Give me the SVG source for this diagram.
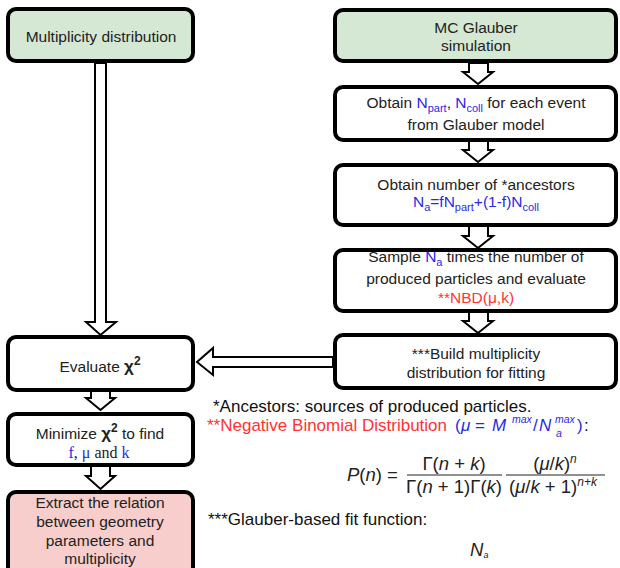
<svg xmlns="http://www.w3.org/2000/svg" width="620" height="568" viewBox="0 0 620 568">
<style>
.box{stroke:#000;stroke-width:4;}
.green{fill:#d5e8d4;}
.white{fill:#fff;}
.red{fill:#f8cecc;}
.t{font-family:"Liberation Sans",Arial,sans-serif;font-size:15.5px;fill:#222;text-anchor:middle;}
.n{font-family:"Liberation Sans",Arial,sans-serif;font-size:17px;fill:#111;}
.m{font-family:"Liberation Sans",Arial,sans-serif;font-style:italic;font-size:18.5px;fill:#222;}
.u{font-style:normal;}
.blue{fill:#2a2ae6;}
.rd{fill:#ff3333;}
.arrow{fill:#fff;stroke:#000;stroke-width:2;stroke-linejoin:miter;}
.sub{font-size:11px;}
</style>
<rect width="620" height="568" fill="#fff"/>
<g id="connectors">
<path class="arrow" d="M95,63 V322 H86 L100.5,335 L116,322 H106 V63 Z"/>
<path class="arrow" d="M469,63 V72 H463 L478,84 L493,72 H488 V63 Z"/>
<path class="arrow" d="M469,141 V150 H463 L478,162 L493,150 H488 V141 Z"/>
<path class="arrow" d="M469,226 V236 H463 L478,248 L493,236 H488 V226 Z"/>
<path class="arrow" d="M469,312 V321 H463 L478,333 L493,321 H488 V312 Z"/>
<path class="arrow" d="M333,357 H213 V348 L197,362 L213,375 V367 H333 Z"/>
<path class="arrow" d="M91,391 V398 H86 L100.5,410 L115,398 H110 V391 Z"/>
<path class="arrow" d="M91,466 V476 H86 L100.5,489 L115,476 H110 V466 Z"/>
</g>
<g id="n-multiplicity">
<rect class="box green" x="8" y="9" width="185" height="52" rx="8"/>
<text class="t" x="101" y="42">Multiplicity distribution</text>
</g>
<g id="n-mcglauber">
<rect class="box green" x="335" y="10" width="281" height="51" rx="8"/>
<text class="t" x="476" y="33">MC Glauber</text>
<text class="t" x="476" y="51">simulation</text>
</g>
<g id="n-npart">
<rect class="box white" x="335" y="87" width="281" height="53" rx="8"/>
<text class="t" x="476" y="108">Obtain <tspan class="blue">N</tspan><tspan class="blue sub" dy="4">part</tspan><tspan dy="-4">, </tspan><tspan class="blue">N</tspan><tspan class="blue sub" dy="4">coll</tspan><tspan dy="-4"> for each event</tspan></text>
<text class="t" x="476" y="130">from Glauber model</text>
</g>
<g id="n-ancestors">
<rect class="box white" x="335" y="165" width="281" height="60" rx="8"/>
<text class="t" x="476" y="190">Obtain number of *ancestors</text>
<text class="t blue" x="476" y="207">N<tspan class="sub" dy="4">a</tspan><tspan dy="-4">=fN</tspan><tspan class="sub" dy="4">part</tspan><tspan dy="-4">+(1-f)N</tspan><tspan class="sub" dy="4">coll</tspan></text>
</g>
<g id="n-sample">
<rect class="box white" x="335" y="250" width="281" height="61" rx="8"/>
<text class="t" x="476" y="262">Sample <tspan class="blue">N</tspan><tspan class="blue sub" dy="4">a</tspan><tspan dy="-4"> times the number of</tspan></text>
<text class="t" x="476" y="284">produced particles and evaluate</text>
<text class="t rd" x="476" y="303">**NBD(μ,k)</text>
</g>
<g id="n-build">
<rect class="box white" x="335" y="335" width="281" height="53" rx="8"/>
<text class="t" x="476" y="359">***Build multiplicity</text>
<text class="t" x="476" y="378">distribution for fitting</text>
</g>
<g id="n-evaluate">
<rect class="box white" x="8" y="337" width="185" height="53" rx="8"/>
<text class="t" x="100" y="372">Evaluate <tspan font-weight="bold" font-size="17">χ</tspan><tspan font-weight="bold" font-size="12" dy="-7">2</tspan></text>
</g>
<g id="n-minimize">
<rect class="box white" x="8" y="414" width="185" height="51" rx="8"/>
<text class="t" x="100" y="439">Minimize <tspan font-weight="bold" font-size="17">χ</tspan><tspan font-weight="bold" font-size="12" dy="-7">2</tspan><tspan dy="7">  to find</tspan></text>
<text class="t" x="99" y="458" style="font-family:'Liberation Serif','Times New Roman',serif;font-size:16px"><tspan class="blue">f</tspan>, <tspan class="blue">μ</tspan> and <tspan class="blue">k</tspan></text>
</g>
<g id="n-extract">
<rect class="box red" x="8" y="492" width="185" height="84" rx="8"/>
<text class="t" x="100" y="508">Extract the relation</text>
<text class="t" x="100" y="527">between geometry</text>
<text class="t" x="100" y="546">parameters and</text>
<text class="t" x="100" y="564">multiplicity</text>
</g>
<g id="notes">
<text class="n" x="213" y="412">*Ancestors: sources of produced particles.</text>
<text class="n rd" x="207" y="431">**Negative Binomial Distribution</text>
<g class="blue" font-family="Liberation Sans, Arial, sans-serif" font-size="17">
<text x="455" y="431">(</text>
<text x="461" y="431" font-style="italic">μ</text>
<text x="475" y="431">=</text>
<text x="492" y="431" font-style="italic">M</text>
<text x="512" y="423" font-style="italic" font-size="10.5">max</text>
<text x="533" y="431">/</text>
<text x="539" y="431" font-style="italic">N</text>
<text x="555" y="423" font-style="italic" font-size="10.5">max</text>
<text x="556" y="437" font-style="italic" font-size="10.5">a</text>
<text x="577" y="431">)</text>
</g>
<text class="n" x="584" y="431">:</text>
<text class="m" x="347" y="481">P<tspan class="u">(</tspan>n<tspan class="u">) =</tspan></text>
<text class="m" x="454" y="470" text-anchor="middle"><tspan class="u">Γ(</tspan>n<tspan class="u"> + </tspan>k<tspan class="u">)</tspan></text>
<line x1="407" y1="475" x2="502" y2="475" stroke="#222" stroke-width="1"/>
<text class="m" x="454" y="493" text-anchor="middle"><tspan class="u">Γ(</tspan>n<tspan class="u"> + 1)Γ(</tspan>k<tspan class="u">)</tspan></text>
<text class="m" x="555" y="470" text-anchor="middle"><tspan class="u">(</tspan>μ<tspan class="u">/</tspan>k<tspan class="u">)</tspan><tspan font-size="12" dy="-7">n</tspan></text>
<line x1="506" y1="475" x2="605" y2="475" stroke="#222" stroke-width="1"/>
<text class="m" x="553" y="493" text-anchor="middle"><tspan class="u">(</tspan>μ<tspan class="u">/</tspan>k<tspan class="u"> + 1)</tspan><tspan font-size="12" dy="-7">n+k</tspan></text>
<text class="n" x="208" y="525">***Glauber-based fit function:</text>
<text class="m" x="470" y="556" font-size="12">N<tspan font-size="9" dy="2">a</tspan></text>
<text class="m" x="369" y="581" font-size="18">F<tspan class="u">(</tspan>N<tspan class="u">) =</tspan></text>
<text x="468" y="590" font-family="Liberation Serif, serif" font-size="30" fill="#222">∑</text>
<text class="m" x="498" y="581" font-size="18">w<tspan class="u">(</tspan>N<tspan class="u">) </tspan>P<tspan class="u">(</tspan>n<tspan class="u">)</tspan></text>
</g>
</svg>
